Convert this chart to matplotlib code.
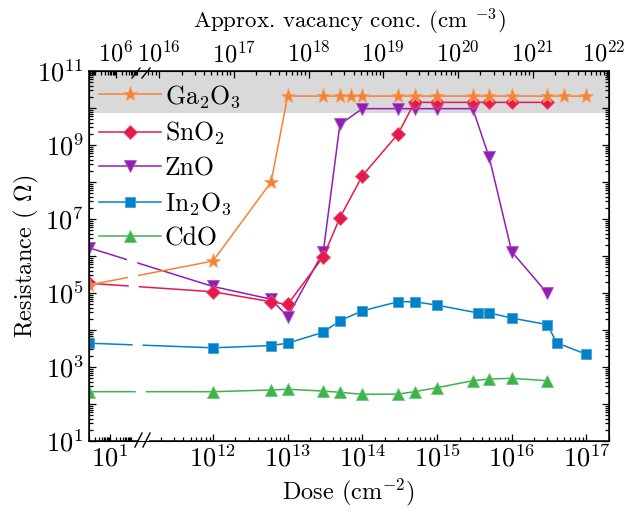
import numpy as np
import matplotlib
matplotlib.use('Agg')
import matplotlib.pyplot as plt
import matplotlib.colors as mcolors
import matplotlib.transforms as mtransforms
from matplotlib.ticker import FixedLocator, FixedFormatter, NullFormatter
from matplotlib.lines import Line2D
from matplotlib.patches import Polygon

plt.rcParams['font.family'] = 'cmr10'
plt.rcParams['mathtext.fontset'] = 'cm'
plt.rcParams['axes.unicode_minus'] = False
plt.rcParams['axes.formatter.use_mathtext'] = True
plt.rcParams['font.size'] = 16

# ---------------- data ----------------
dose_ga = [1, 1e12, 6e12, 1e13, 3e13, 5e13, 7e13, 1e14, 3e14, 5e14, 1e15, 3e15, 5e15, 1e16, 3e16, 5e16, 1e17]
res_ga = [1.65e5, 7.3e5, 1.0e8, 2.1e10, 2.1e10, 2.1e10, 2.1e10, 2.1e10, 2.1e10, 2.1e10, 2.1e10,
          2.1e10, 2.1e10, 2.1e10, 2.1e10, 2.1e10, 2.1e10]

dose_sn = [1, 1e12, 6e12, 1e13, 3e13, 5e13, 1e14, 3e14, 5e14, 1e15, 3e15, 5e15, 1e16, 3e16]
res_sn = [1.83e5, 1.08e5, 5.8e4, 4.9e4, 9.6e5, 1.08e7, 1.48e8, 1.98e9, 1.42e10, 1.42e10,
          1.42e10, 1.42e10, 1.42e10, 1.42e10]

dose_zn = [1, 1e12, 6e12, 1e13, 3e13, 5e13, 1e14, 3e14, 5e14, 1e15, 3e15, 5e15, 1e16, 3e16]
res_zn = [1.67e6, 1.5e5, 6.8e4, 2.3e4, 1.3e6, 3.6e9, 9.6e9, 9.6e9, 9.6e9, 9.6e9, 9.6e9,
          4.6e8, 1.3e6, 9.8e4]

dose_in = [1, 1e12, 6e12, 1e13, 3e13, 5e13, 1e14, 3e14, 5e14, 1e15, 3.5e15, 5e15, 1e16, 3e16, 4e16, 1e17]
res_in = [4.4e3, 3.3e3, 3.8e3, 4.4e3, 8.7e3, 1.78e4, 3.3e4, 5.8e4, 5.8e4, 4.7e4, 2.9e4, 2.9e4,
          2.1e4, 1.4e4, 4.5e3, 2.2e3]

dose_cd = [1, 1e12, 6e12, 1e13, 3e13, 5e13, 1e14, 3e14, 5e14, 1e15, 3e15, 5e15, 1e16, 3e16]
res_cd = [215, 215, 239, 250, 224, 207, 183, 185, 215, 276, 426, 474, 494, 426]

labels = ['Ga$_2$O$_3$', 'SnO$_2$', 'ZnO', 'In$_2$O$_3$', 'CdO']
colors = ['#f58231', '#e6194b', '#911eb4', '#0082c8', '#3cb44b']
markers = ['*', 'D', 'v', 's', '^']
msizes = [11, 7, 9, 7.5, 9]

bottom_major = [1e1, 1e12, 1e13, 1e14, 1e15, 1e16, 1e17]
bottom_labels = ['$10^{1}$', '$10^{12}$', '$10^{13}$', '$10^{14}$', '$10^{15}$', '$10^{16}$', '$10^{17}$']
top_major_exp = [6, 16, 17, 18, 19, 20, 21, 22]
y_major_exp = list(range(1, 12))

# ------------- broken log scale -------------
R = 21.0 / 74.7          # left segment compression
U1, U2 = 2.286, 11.09    # break in log10(dose)
def _pr(u):
    return 1.66 + (u - 12.0)
UK = np.array([-5.0, U1, U2, 25.0])
PK = np.array([-5.0 * R, U1 * R, _pr(U2), _pr(25.0)])

def fwd(d):
    d = np.asarray(d, dtype=float)
    u = np.log10(np.maximum(d, 1e-300))
    return np.interp(u, UK, PK)

def inv(p):
    return 10 ** np.interp(np.asarray(p, dtype=float), PK, UK)

XMIN, XMAX = 1.0, 10 ** 17.302
CONV = 10 ** 4.72  # vacancy conc / dose

def in_view(u):
    return (0 <= u <= U1) or (U2 <= u <= np.log10(XMAX))

fig = plt.figure(figsize=(6.25, 5.09), dpi=100)
ax = fig.add_axes([89 / 625, 1 - 441 / 509, 520 / 625, 370 / 509])
ax.set_xscale('function', functions=(fwd, inv))
ax.set_yscale('log')
ax.set_xlim(XMIN, XMAX)
ax.set_ylim(10, 1e11)

ax.axhspan(7.3e9, 1e11, color='#d9d9d9', lw=0, zorder=0)

series = list(zip([dose_ga, dose_sn, dose_zn, dose_in, dose_cd],
                  [res_ga, res_sn, res_zn, res_in, res_cd],
                  labels, colors, markers, msizes))
handles = []
for i, (d, r, lab, c, m, ms) in reversed(list(enumerate(series))):
    mec = mcolors.to_hex(0.75 * np.array(mcolors.to_rgb(c)) + 0.25)
    h, = ax.plot(d, r, color=c, marker=m, ms=ms, lw=1.1, mec=mec, mew=0.6,
                 label=lab, zorder=3 + (5 - i) * 0.1)
    handles.append(h)
handles = handles[::-1]

# white break band
band = Polygon([(0.0962, -0.001), (0.1154, -0.001), (0.0737, 0.886), (0.0544, 0.886)],
               closed=True, transform=ax.transAxes, facecolor='white', edgecolor='none', zorder=3.8)
ax.add_patch(band)

# break slashes
for (x0, y0, x1, y1) in [(132, 78, 140, 68), (142, 78, 150, 68), (135, 447, 142, 433), (143, 447, 150, 433)]:
    ln = Line2D([(x0 - 89) / 520, (x1 - 89) / 520], [(441 - y0) / 370, (441 - y1) / 370],
                transform=ax.transAxes, color='black', lw=1.0, clip_on=False, zorder=6)
    ax.add_line(ln)

# bottom ticks
ax.xaxis.set_major_locator(FixedLocator(bottom_major))
ax.xaxis.set_major_formatter(FixedFormatter(bottom_labels))
bmin = []
for n in list(range(0, 3)) + list(range(11, 18)):
    for k in range(1, 10):
        v = k * 10.0 ** n
        if v in bottom_major:
            continue
        if in_view(np.log10(v)):
            bmin.append(v)
ax.xaxis.set_minor_locator(FixedLocator(bmin))
ax.xaxis.set_minor_formatter(NullFormatter())

# y ticks
ax.yaxis.set_major_locator(FixedLocator([10.0 ** e for e in y_major_exp]))
ax.yaxis.set_major_formatter(FixedFormatter([('$10^{%d}$' % e) if e % 2 == 1 else '' for e in y_major_exp]))
ymin = [k * 10.0 ** n for n in range(1, 11) for k in range(2, 10)]
ax.yaxis.set_minor_locator(FixedLocator(ymin))
ax.yaxis.set_minor_formatter(NullFormatter())

ax.tick_params(which='both', direction='in', top=False, right=True, width=0.9, labelsize=19)
ax.tick_params(which='major', length=5)
ax.tick_params(which='minor', length=2.6)
ax.tick_params(axis='x', pad=3)
ax.tick_params(axis='y', pad=4)
for s in ax.spines.values():
    s.set_linewidth(1.1)

# top axis
ax2 = ax.twiny()
ax2.set_xscale('function', functions=(fwd, inv))
ax2.set_xlim(XMIN, XMAX)
tmaj = [10.0 ** e / CONV for e in top_major_exp]
ax2.xaxis.set_major_locator(FixedLocator(tmaj))
ax2.xaxis.set_major_formatter(FixedFormatter(['$10^{%d}$' % e for e in top_major_exp]))
tmin = []
for n in range(4, 23):
    for k in range(1, 10):
        if k == 1 and n in top_major_exp:
            continue
        dv = k * 10.0 ** n / CONV
        if in_view(np.log10(dv)):
            tmin.append(dv)
ax2.xaxis.set_minor_locator(FixedLocator(tmin))
ax2.xaxis.set_minor_formatter(NullFormatter())
ax2.tick_params(which='both', direction='in', width=0.9, labelsize=17.5, pad=3)
ax2.tick_params(which='major', length=5)
ax2.tick_params(which='minor', length=2.6)
ax2.set_xlabel('Approx. vacancy conc. (cm $^{-3}$)', fontsize=16.5, labelpad=9)

# nudge the last top label so it stays inside the figure
last = ax2.xaxis.get_major_ticks()[-1].label2
last.set_transform(last.get_transform() +
                   mtransforms.ScaledTranslation(-4 / 100, 0, fig.dpi_scale_trans))

ax.set_xlabel('Dose (cm$^{-2}$)', fontsize=17.5, labelpad=3)
ax.set_ylabel('Resistance ( $\\Omega$)', fontsize=17.5)
ax.yaxis.set_label_coords(-0.092, 0.5)

leg = ax.legend(handles=handles, loc='upper left', frameon=False, handlelength=2.4,
                labelspacing=0.38, borderaxespad=0.0, handletextpad=0.15, fontsize=18.5,
                bbox_to_anchor=(0.0, 0.995))
leg.set_zorder(10)

fig.savefig('out.png', dpi=100)
